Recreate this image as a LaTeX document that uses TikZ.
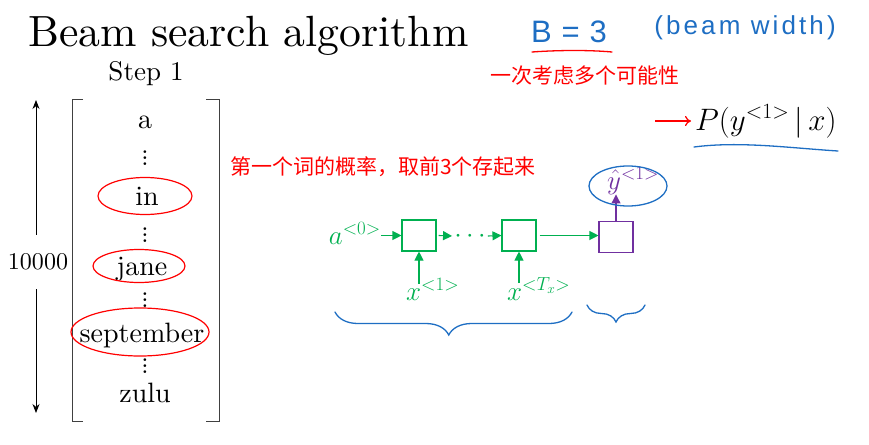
\RequirePackage{fix-cm}
\documentclass[tikz,border=0pt]{standalone}
\usepackage{fontspec}
\setmainfont{lmroman10-regular.otf}
\newfontfamily\cjk{Noto Sans CJK SC}
\newfontfamily\hand[LetterSpace=12]{Liberation Sans}
\newfontfamily\handb[LetterSpace=4]{Liberation Sans}
\usetikzlibrary{arrows.meta,decorations.pathreplacing}
\definecolor{rnngreen}{RGB}{0,176,80}
\definecolor{rnnpurple}{RGB}{112,48,160}
\definecolor{ink}{RGB}{30,110,195}
\definecolor{redink}{RGB}{255,0,0}
\newcommand\myvd{\vbox{\baselineskip=6.3pt\lineskiplimit=-10pt\hbox{.}\hbox{.}\hbox{.}}}
\begin{document}
\begin{tikzpicture}[x=1pt,y=-1pt,
  word/.style={anchor=base, inner sep=0pt, font=\fontsize{28}{30}\selectfont},
  dotsv/.style={inner sep=0pt, font=\fontsize{26}{26}\selectfont},
  circ/.style={draw=redink, line width=1.2pt},
  cell/.style={draw=rnngreen, line width=1.1pt, minimum width=34pt, minimum height=31pt, inner sep=0pt},
  garrow/.style={rnngreen, line width=1.1pt, -{Triangle[length=9pt,width=9pt]}},
  parrow/.style={rnnpurple, line width=1.1pt, -{Triangle[length=9pt,width=9pt]}},
  glabel/.style={text=rnngreen, inner sep=0pt, font=\fontsize{27}{29}\selectfont},
  inkline/.style={draw=ink, line width=1.3pt, line cap=round},
  redtext/.style={text=redink, inner sep=0pt, font=\cjk\fontsize{21}{24}\selectfont}
]
\useasboundingbox (0,0) rectangle (869,444);
% title
\node[anchor=base west, inner sep=0pt, font=\fontsize{43.7}{46}\selectfont] (title) at (28,47) {Beam search algorithm};
\node[word, font=\fontsize{27}{30}\selectfont] (step) at (146,81) {Step 1};
% bracket
\draw[line width=1pt, black!75] (83,99) -- (72,99) -- (72,421) -- (83,421);
\draw[line width=1pt, black!75] (206,99) -- (219,99) -- (219,421) -- (206,421);
% words
\node[word] (wa) at (145,128) {a};
\node[dotsv] (d1) at (145,158) {\myvd};
\node[word] (win) at (147,205) {in};
\node[dotsv] (d2) at (145,235) {\myvd};
\node[word] (wjane) at (142,275) {jane};
\node[dotsv] (d3) at (145,300) {\myvd};
\node[word] (wsep) at (142,342) {september};
\node[dotsv] (d4) at (145,366) {\myvd};
\node[word] (wzulu) at (145,402) {zulu};
% size arrow
\node[inner sep=0pt, minimum height=54pt, font=\fontsize{24}{26}\selectfont] (n10000) at (38,262) {10000};
\coordinate (vtop) at (36,100);
\coordinate (vbot) at (36,413);
\draw[line width=0.9pt, -{Stealth[length=9pt,width=7pt]}] (n10000.north -| vtop) -- (vtop);
\draw[line width=0.9pt, -{Stealth[length=9pt,width=7pt]}] (n10000.south -| vbot) -- (vbot);
% red circles
\draw[circ] (145,196) ellipse [x radius=47, y radius=18.5];
\draw[circ] (139,266) ellipse [x radius=46, y radius=16.5];
\draw[circ] (140,332) ellipse [x radius=69, y radius=24];
% red notes
\node[redtext, anchor=west] (note1) at (230,167) {第一个词的概率，取前3个存起来};
\node[redtext, anchor=west] (note2) at (490,76) {一次考虑多个可能性};
% handwriting
\node[text=ink, inner sep=0pt, anchor=base, font=\handb\fontsize{31}{33}\selectfont] (beq) at (569,43) {B = 3};
\draw[redink, line width=1.3pt, line cap=round] (532,52) .. controls (560,50) and (590,50) .. (612,52);
\node[text=ink, inner sep=0pt, anchor=base, font=\hand\fontsize{26}{28}\selectfont] (bw) at (745,35) {(beam width)};
% P(y|x)
\node[inner sep=0pt, anchor=base west, font=\fontsize{31}{34}\selectfont] (pyx) at (695,130) {$P(y^{<1>}\,|\,x)$};
\coordinate (rstart) at (655,121);
\draw[redink, line width=1.2pt, -{To[length=6pt,width=10pt]}] (rstart) -- ([xshift=-4pt]pyx.west |- rstart);
\draw[inkline] (694,147) .. controls (740,141) and (790,148) .. (838,151);
% RNN
\node[cell] (c1) at (419,235.5) {};
\node[cell] (c2) at (519,235.5) {};
\node[cell, draw=rnnpurple] (c3) at (616,237) {};
\node[glabel, anchor=base east] (a0) at (381,244) {$a^{<0>}$};
\node[glabel] (dots) at (470,236) {$\cdots$};
\node[glabel, anchor=base west] (x1) at (406,300) {$x^{<1>}$};
\node[glabel, anchor=base west] (xT) at (507,300) {$x^{<T_x>}$};
\node[glabel, text=rnnpurple, anchor=base west] (yhat) at (607,189) {$\hat{y}^{<1>}$};
\draw[garrow] (a0.east |- c1.west) -- (c1.west);
\draw[garrow] (c1.east) ++(2,0) -- ([xshift=-2pt]dots.west);
\draw[garrow] ([xshift=2pt]dots.east) -- (c2.west);
\draw[garrow] ([xshift=3pt]c2.east) -- (c2.east -| c3.west);
\draw[garrow] ([yshift=-6pt]x1.north -| c1.south) -- (c1.south);
\draw[garrow] ([yshift=-6pt]xT.north -| c2.south) -- (c2.south);
\draw[parrow] (c3.north) -- (c3.north |- yhat.south);
\draw[inkline] (628,186) ellipse [x radius=39, y radius=20];
% braces
\draw[inkline, decorate, decoration={brace, mirror, amplitude=23pt, aspect=0.48}] (335,312) -- (572,312);
\draw[inkline, decorate, decoration={brace, mirror, amplitude=17pt, aspect=0.5}] (587,305) -- (645,305);
\end{tikzpicture}
\end{document}
